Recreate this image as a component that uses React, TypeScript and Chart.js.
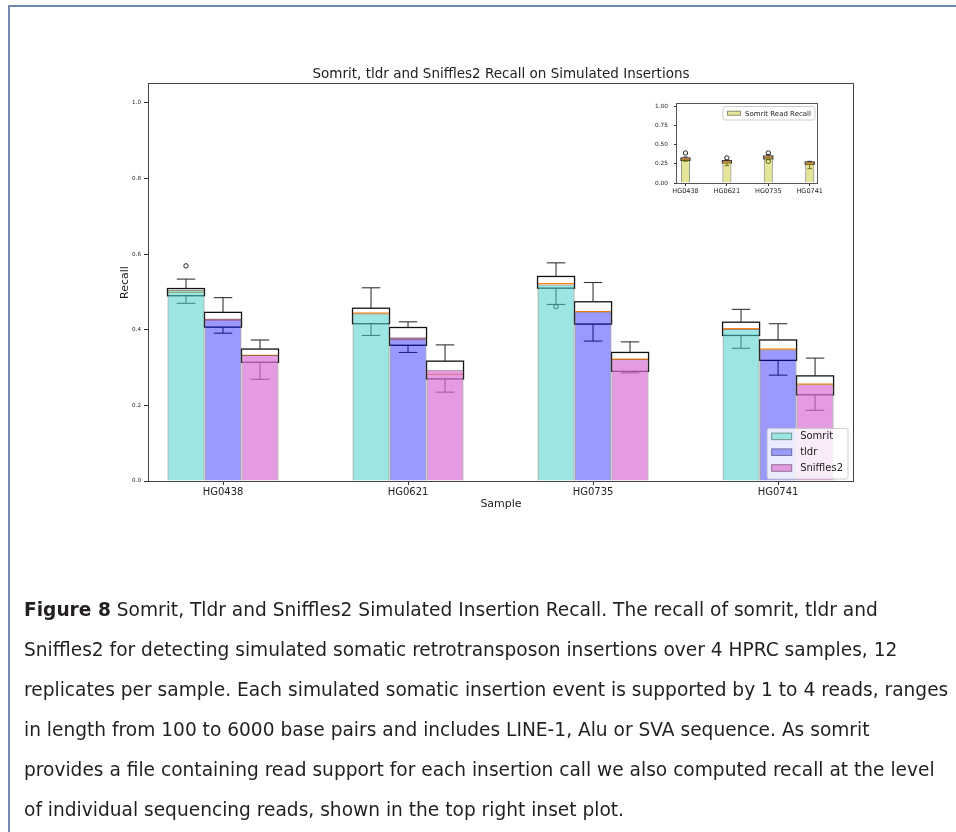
import React, { useEffect, useRef } from "react";
import { Chart, registerables } from "chart.js";

Chart.register(...registerables);

// ---------------- data ----------------
const samples = ["HG0438", "HG0621", "HG0735", "HG0741"];
const seriesNames = ["Somrit", "tldr", "Sniffles2"];

const somritMean = [0.505, 0.443, 0.52, 0.402];
const tldrMean = [0.43, 0.38, 0.448, 0.348];
const sniffles2Mean = [0.333, 0.294, 0.322, 0.255];

// [lower whisker, q1, median, q3, upper whisker]
const somritBox = [
  [0.47, 0.49, 0.499, 0.509, 0.534],
  [0.385, 0.416, 0.444, 0.457, 0.511],
  [0.467, 0.51, 0.522, 0.541, 0.577],
  [0.351, 0.385, 0.403, 0.42, 0.454],
];
const tldrBox = [
  [0.391, 0.407, 0.426, 0.446, 0.485],
  [0.34, 0.359, 0.375, 0.406, 0.421],
  [0.37, 0.415, 0.448, 0.474, 0.525],
  [0.28, 0.319, 0.349, 0.373, 0.416],
];
const sniffles2Box = [
  [0.269, 0.314, 0.332, 0.349, 0.373],
  [0.235, 0.27, 0.282, 0.317, 0.36],
  [0.286, 0.29, 0.322, 0.34, 0.368],
  [0.187, 0.228, 0.256, 0.278, 0.325],
];
const somritOutliers = [[0.569], [], [0.461], []];
const tldrOutliers = [[], [], [], []];
const sniffles2Outliers = [[], [], [], []];

const mainYTicks = [0, 0.2, 0.4, 0.6, 0.8, 1.0];

// inset: Somrit read-level recall
const readRecallMean = [0.318, 0.284, 0.345, 0.271];
const readRecallBox = [
  [0.285, 0.295, 0.311, 0.328, 0.34],
  [0.227, 0.262, 0.275, 0.292, 0.3],
  [0.305, 0.315, 0.337, 0.354, 0.371],
  [0.187, 0.245, 0.258, 0.275, 0.284],
];
const readRecallOutliers = [[0.393], [0.328], [0.393, 0.284], []];
const insetYTicks = [0, 0.25, 0.5, 0.75, 1.0];

const mainTitle = "Somrit, tldr and Sniffles2 Recall on Simulated Insertions";
const insetLegendLabel = "Somrit Read Recall";

const captionLines = [
  "Somrit, Tldr and Sniffles2 Simulated Insertion Recall. The recall of somrit, tldr and",
  "Sniffles2 for detecting simulated somatic retrotransposon insertions over 4 HPRC samples, 12",
  "replicates per sample. Each simulated somatic insertion event is supported by 1 to 4 reads, ranges",
  "in length from 100 to 6000 base pairs and includes LINE-1, Alu or SVA sequence. As somrit",
  "provides a file containing read support for each insertion call we also computed recall at the level",
  "of individual sequencing reads, shown in the top right inset plot.",
];
const captionLead = "Figure 8";

// ---------------- styles ----------------
const FONT = "'DejaVu Sans', sans-serif";
const seriesColors = ["rgba(72,209,204,0.55)", "rgba(0,0,255,0.4)", "rgba(218,112,214,0.7)"];
const insetColor = "rgba(191,191,0,0.4)";
const barEdge = "rgba(100,100,100,0.7)";
const TEXT = "#222";

type Stats = number[];

function makeBoxPlugin(
  boxes: Stats[][],
  outliers: number[][][],
  st: { boxLw: number; wLw: number; medLw: number; capFrac: number; r: number }
) {
  return {
    id: "boxes",
    beforeDatasetsDraw(chart: any) {
      const { ctx } = chart;
      const ys = chart.scales.y;
      const line = (a: number, b: number, c: number, d: number) => {
        ctx.beginPath();
        ctx.moveTo(a, b);
        ctx.lineTo(c, d);
        ctx.stroke();
      };
      ctx.save();
      boxes.forEach((series, d) => {
        const meta = chart.getDatasetMeta(d);
        series.forEach((s, i) => {
          const el = meta.data[i];
          if (!el) return;
          const cx = el.x;
          const w = el.width;
          const x0 = cx - w / 2;
          const x1 = cx + w / 2;
          const [lo, q1, med, q3, hi] = s.map((v) => ys.getPixelForValue(v));
          ctx.fillStyle = "#ffffff";
          ctx.fillRect(x0, q3, w, q1 - q3);
          ctx.strokeStyle = "#111";
          ctx.lineWidth = st.boxLw;
          ctx.strokeRect(x0, q3, w, q1 - q3);
          ctx.strokeStyle = "#333";
          ctx.lineWidth = st.wLw;
          line(cx, q3, cx, hi);
          line(cx, q1, cx, lo);
          const cw = (w * st.capFrac) / 2;
          line(cx - cw, hi, cx + cw, hi);
          line(cx - cw, lo, cx + cw, lo);
          ctx.strokeStyle = "#ff7f0e";
          ctx.lineWidth = st.medLw;
          line(x0 + 0.5, med, x1 - 0.5, med);
          ctx.strokeStyle = "#222";
          ctx.lineWidth = 1;
          (outliers[d][i] || []).forEach((v) => {
            ctx.beginPath();
            ctx.arc(cx, ys.getPixelForValue(v), st.r, 0, Math.PI * 2);
            ctx.stroke();
          });
        });
      });
      ctx.restore();
    },
  };
}

function makeFramePlugin(color: string) {
  return {
    id: "frame",
    afterDatasetsDraw(chart: any) {
      const { ctx, chartArea: a } = chart;
      ctx.save();
      ctx.strokeStyle = color;
      ctx.lineWidth = 1;
      const l = Math.round(a.left) - 0.5;
      const t = Math.round(a.top) - 0.5;
      const r = Math.round(a.right) + 0.5;
      const b = Math.round(a.bottom) + 0.5;
      ctx.strokeRect(l, t, r - l, b - t);
      ctx.restore();
    },
  };
}

function roundRectPath(ctx: any, x: number, y: number, w: number, h: number, r: number) {
  ctx.beginPath();
  ctx.moveTo(x + r, y);
  ctx.lineTo(x + w - r, y);
  ctx.quadraticCurveTo(x + w, y, x + w, y + r);
  ctx.lineTo(x + w, y + h - r);
  ctx.quadraticCurveTo(x + w, y + h, x + w - r, y + h);
  ctx.lineTo(x + r, y + h);
  ctx.quadraticCurveTo(x, y + h, x, y + h - r);
  ctx.lineTo(x, y + r);
  ctx.quadraticCurveTo(x, y, x + r, y);
  ctx.closePath();
}

function makeLegendPlugin(cfg: {
  corner: "br" | "tr";
  dx: number;
  dy: number;
  fontSize: number;
  patchX: number;
  patchW: number;
  patchH: number;
  textX: number;
  padR: number;
  padT: number;
  padB: number;
  rowH: number;
}) {
  return {
    id: "innerLegend",
    afterDraw(chart: any) {
      const { ctx, chartArea: a } = chart;
      const ds = chart.data.datasets;
      ctx.save();
      ctx.font = `${cfg.fontSize}px ${FONT}`;
      const tw = Math.max(...ds.map((d: any) => ctx.measureText(d.label).width));
      const w = cfg.textX + tw + cfg.padR;
      const h = cfg.padT + cfg.rowH * (ds.length - 1) + cfg.padB;
      const x = a.right - cfg.dx - w;
      const y = cfg.corner === "br" ? a.bottom - cfg.dy - h : a.top + cfg.dy;
      roundRectPath(ctx, x, y, w, h, 2);
      ctx.fillStyle = "rgba(255,255,255,0.8)";
      ctx.fill();
      ctx.strokeStyle = "rgba(200,200,200,0.9)";
      ctx.lineWidth = 1;
      ctx.stroke();
      ctx.textBaseline = "middle";
      ctx.textAlign = "left";
      ds.forEach((d: any, k: number) => {
        const cy = y + cfg.padT + k * cfg.rowH;
        ctx.fillStyle = "#fff";
        ctx.fillRect(x + cfg.patchX, cy - cfg.patchH / 2, cfg.patchW, cfg.patchH);
        ctx.fillStyle = d.backgroundColor;
        ctx.fillRect(x + cfg.patchX, cy - cfg.patchH / 2, cfg.patchW, cfg.patchH);
        ctx.strokeStyle = "rgba(90,90,90,0.6)";
        ctx.strokeRect(x + cfg.patchX + 0.5, cy - cfg.patchH / 2 + 0.5, cfg.patchW - 1, cfg.patchH - 1);
        ctx.fillStyle = TEXT;
        ctx.fillText(d.label, x + cfg.textX, cy + 0.5);
      });
      ctx.restore();
    },
  };
}

function mainConfig(): any {
  const means = [somritMean, tldrMean, sniffles2Mean];
  return {
    type: "bar",
    data: {
      datasets: seriesNames.map((name, d) => ({
        label: name,
        data: means[d].map((v, i) => ({ x: i, y: v })),
        backgroundColor: seriesColors[d],
        borderColor: barEdge,
        borderWidth: 1,
        categoryPercentage: 0.6,
        barPercentage: 1.0,
      })),
    },
    options: {
      animation: false,
      responsive: false,
      maintainAspectRatio: false,
      devicePixelRatio: 1,
      layout: { padding: { left: 0, right: 27, top: 0, bottom: 0 } },
      plugins: {
        legend: { display: false },
        tooltip: { enabled: false },
        title: {
          display: true,
          fullSize: false,
          text: mainTitle,
          color: TEXT,
          font: { family: FONT, size: 13.5, weight: "normal", lineHeight: 1.2 },
          padding: { top: 6, bottom: 1.8 },
        },
      },
      scales: {
        x: {
          type: "linear",
          min: -0.4,
          max: 3.405,
          offset: false,
          bounds: "data",
          afterBuildTicks: (s: any) => {
            s.ticks = samples.map((_, i) => ({ value: i }));
          },
          afterFit: (s: any) => {
            s.height = 39;
            s.paddingLeft = 0;
            s.paddingRight = 0;
          },
          ticks: {
            callback: (v: any) => samples[Math.round(Number(v))] ?? "",
            font: { family: FONT, size: 10 },
            color: TEXT,
            padding: 1,
            maxRotation: 0,
            autoSkip: false,
          },
          grid: { display: true, drawOnChartArea: false, drawTicks: true, tickLength: 4, color: "#333", offset: false },
          border: { display: false },
          title: {
            display: true,
            text: "Sample",
            color: TEXT,
            font: { family: FONT, size: 11, lineHeight: 1.2 },
            padding: { top: 0, bottom: 9.4 },
          },
        },
        y: {
          type: "linear",
          min: 0,
          max: 1.05,
          bounds: "data",
          afterBuildTicks: (s: any) => {
            s.ticks = mainYTicks.map((v) => ({ value: v }));
          },
          afterFit: (s: any) => {
            s.width = 37;
            s.paddingTop = 0;
            s.paddingBottom = 0;
          },
          ticks: {
            callback: (v: any) => Number(v).toFixed(1),
            font: { family: FONT, size: 5.6 },
            color: TEXT,
            padding: 3,
          },
          grid: { display: true, drawOnChartArea: false, drawTicks: true, tickLength: 5, color: "#333" },
          border: { display: false },
          title: {
            display: true,
            text: "Recall",
            color: TEXT,
            font: { family: FONT, size: 11, lineHeight: 1.2 },
            padding: { top: 6.4, bottom: 0 },
          },
        },
      },
    },
    plugins: [
      makeBoxPlugin(
        [somritBox, tldrBox, sniffles2Box],
        [somritOutliers, tldrOutliers, sniffles2Outliers],
        { boxLw: 1.3, wLw: 1.1, medLw: 1.3, capFrac: 0.5, r: 2.2 }
      ),
      makeFramePlugin("#444"),
      makeLegendPlugin({
        corner: "br",
        dx: 5,
        dy: 2,
        fontSize: 10,
        patchX: 4,
        patchW: 21,
        patchH: 7.5,
        textX: 33,
        padR: 5,
        padT: 8,
        padB: 11,
        rowH: 15.8,
      }),
    ],
  };
}

function insetConfig(): any {
  return {
    type: "bar",
    data: {
      datasets: [
        {
          label: insetLegendLabel,
          data: readRecallMean.map((v, i) => ({ x: i, y: v })),
          backgroundColor: insetColor,
          borderColor: barEdge,
          borderWidth: 1,
          categoryPercentage: 0.22,
          barPercentage: 1.0,
        },
      ],
    },
    options: {
      animation: false,
      responsive: false,
      maintainAspectRatio: false,
      devicePixelRatio: 1,
      layout: { padding: { left: 0, right: 13, top: 9, bottom: 0 } },
      plugins: { legend: { display: false }, tooltip: { enabled: false }, title: { display: false } },
      scales: {
        x: {
          type: "linear",
          min: -0.205,
          max: 3.176,
          offset: false,
          bounds: "data",
          afterBuildTicks: (s: any) => {
            s.ticks = samples.map((_, i) => ({ value: i }));
          },
          afterFit: (s: any) => {
            s.height = 17;
            s.paddingLeft = 0;
            s.paddingRight = 0;
          },
          ticks: {
            callback: (v: any) => samples[Math.round(Number(v))] ?? "",
            font: { family: FONT, size: 6.5 },
            color: TEXT,
            padding: 1,
            maxRotation: 0,
            autoSkip: false,
          },
          grid: { display: true, drawOnChartArea: false, drawTicks: true, tickLength: 3, color: "#333", offset: false },
          border: { display: false },
        },
        y: {
          type: "linear",
          min: 0,
          max: 1.035,
          bounds: "data",
          afterBuildTicks: (s: any) => {
            s.ticks = insetYTicks.map((v) => ({ value: v }));
          },
          afterFit: (s: any) => {
            s.width = 37;
            s.paddingTop = 0;
            s.paddingBottom = 0;
          },
          ticks: {
            callback: (v: any) => Number(v).toFixed(2),
            font: { family: FONT, size: 5.8 },
            color: TEXT,
            padding: 6,
          },
          grid: { display: true, drawOnChartArea: false, drawTicks: true, tickLength: 3, color: "#333" },
          border: { display: false },
        },
      },
    },
    plugins: [
      makeBoxPlugin([readRecallBox], [readRecallOutliers], { boxLw: 1, wLw: 1, medLw: 1.5, capFrac: 0.5, r: 2.2 }),
      makeFramePlugin("#555"),
      makeLegendPlugin({
        corner: "tr",
        dx: 2,
        dy: 2.5,
        fontSize: 7,
        patchX: 4,
        patchW: 14,
        patchH: 5,
        textX: 22,
        padR: 4,
        padT: 6.75,
        padB: 6.75,
        rowH: 10,
      }),
    ],
  };
}

export default function App() {
  const mainRef = useRef<HTMLCanvasElement>(null);
  const insetRef = useRef<HTMLCanvasElement>(null);

  useEffect(() => {
    const main = new Chart(mainRef.current as HTMLCanvasElement, mainConfig());
    const inset = new Chart(insetRef.current as HTMLCanvasElement, insetConfig());
    return () => {
      main.destroy();
      inset.destroy();
    };
  }, []);

  const capStyle: React.CSSProperties = {
    position: "absolute",
    left: 16,
    whiteSpace: "nowrap",
    fontFamily: "'DejaVu Sans', sans-serif",
    fontSize: 18.6,
    lineHeight: "40px",
    color: "#231f20",
  };

  return (
    <div style={{ position: "relative", width: 948, height: 816 }}>
      <div
        style={{
          position: "fixed",
          left: 8,
          top: 5,
          width: 948,
          height: 827,
          boxSizing: "border-box",
          borderTop: "2px solid #6f8bb3",
          borderLeft: "2px solid #6f8bb3",
        }}
      />
      <canvas
        ref={mainRef}
        width={768}
        height={460}
        style={{ position: "absolute", left: 104, top: 52, width: 768, height: 460 }}
      />
      <canvas
        ref={insetRef}
        width={190}
        height={105}
        style={{ position: "absolute", left: 632, top: 87, width: 190, height: 105 }}
      />
      {captionLines.map((line, i) => (
        <div key={i} style={{ ...capStyle, top: 582.3 + i * 40 }}>
          {i === 0 ? (
            <>
              <b>{captionLead}</b> {line}
            </>
          ) : (
            line
          )}
        </div>
      ))}
    </div>
  );
}
